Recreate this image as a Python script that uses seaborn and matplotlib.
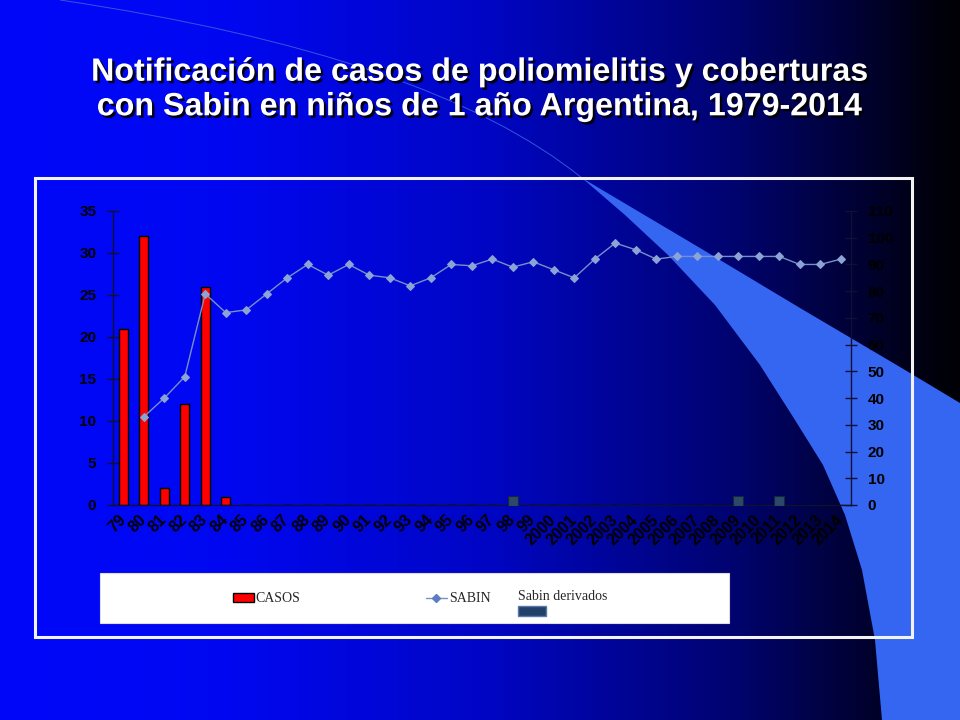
import numpy as np
import pandas as pd
import matplotlib
matplotlib.use("Agg")
import matplotlib.pyplot as plt
import matplotlib.patheffects as pe
from matplotlib.patches import Polygon, Rectangle, Patch, PathPatch
from matplotlib.path import Path
from matplotlib.lines import Line2D
import seaborn as sns

# =============================
# Datos
# =============================
anios = ['79', '80', '81', '82', '83', '84', '85', '86', '87', '88', '89', '90',
         '91', '92', '93', '94', '95', '96', '97', '98', '99', '2000', '2001',
         '2002', '2003', '2004', '2005', '2006', '2007', '2008', '2009', '2010',
         '2011', '2012', '2013', '2014']
casos = [21, 32, 2, 12, 26, 1] + [0] * 30

# cobertura Sabin (%) desde 1980
sabin_anios = anios[1:]
sabin = [33, 40, 48, 79, 72, 73, 79, 85, 90, 86, 90, 86, 85, 82, 85, 90, 89.5,
         92, 89, 91, 88, 85, 92, 98, 95.5, 92, 93, 93, 93, 93, 93, 93, 90, 90, 92]

derivados_anios = ['98', '2009', '2011']
derivados = [0.5, 0.5, 0.5]

titulo = ("Notificación de casos de poliomielitis y coberturas\n"
          "con Sabin en niños de 1 año Argentina, 1979-2014")

# =============================
# Figura y fondo
# =============================
sns.set_style("white")
plt.rcParams['font.family'] = ['Liberation Sans', 'DejaVu Sans']

fig = plt.figure(figsize=(9.6, 7.2), dpi=100)

bg = fig.add_axes([0, 0, 1, 1], zorder=0)
bg.set_xlim(0, 960)
bg.set_ylim(720, 0)
bg.axis('off')

# degradado azul -> negro
px = np.arange(960)
stops_x = [0, 230, 490, 735, 880, 945, 960]
stops_b = [250, 240, 195, 110, 40, 8, 5]
blue = np.interp(px, stops_x, stops_b) / 255.0
grad = np.zeros((2, 960, 3))
grad[:, :, 1] = blue * 0.03
grad[:, :, 2] = blue
bg.imshow(grad, extent=(0, 960, 720, 0), aspect='auto', zorder=0)

# curva decorativa
curva = Path([(60, 0), (430, 55), (582, 178)], [Path.MOVETO, Path.CURVE3, Path.CURVE3])
bg.add_patch(PathPatch(curva, facecolor='none', edgecolor='#3f63e0', lw=0.7, alpha=0.85, zorder=1))
swoosh = [(582, 178), (700, 248), (800, 308), (900, 367), (960, 403),
          (960, 720), (882, 720), (875, 640), (862, 570), (845, 515),
          (823, 465), (795, 420), (760, 365), (715, 305), (668, 255), (625, 215)]
bg.add_patch(Polygon(swoosh, closed=True, facecolor='#3566F2', edgecolor='none', zorder=1))

# marco blanco y caja de leyenda
bg.add_patch(Rectangle((35, 178), 877, 459, fill=False, edgecolor='#F2F2F2', lw=2.2, zorder=3))
bg.add_patch(Rectangle((100, 573), 629, 50, facecolor='white', edgecolor='#DDDDDD', lw=0.8, zorder=3))

# titulo
fig.text(0.5, 1 - 90 / 720, titulo, ha='center', va='center', color='white',
         fontsize=23.2, fontweight='bold', linespacing=1.2,
         path_effects=[pe.SimplePatchShadow(offset=(1.8, -1.8), shadow_rgbFace='black', alpha=0.9),
                       pe.Normal()])

# =============================
# Grafico
# =============================
ax = fig.add_axes([113 / 960, 1 - 505 / 720, (851 - 113) / 960, (505 - 211) / 720], zorder=2)
ax.patch.set_alpha(0)

df = pd.DataFrame({'anio': anios, 'casos': casos})
sns.barplot(data=df, x='anio', y='casos', order=anios, color='#FF0000', saturation=1,
            edgecolor='black', linewidth=1, width=0.42, ax=ax)

pos = {a: i for i, a in enumerate(anios)}
sns.scatterplot(x=[pos[a] for a in derivados_anios], y=derivados, marker='s', s=55,
                color='#2C4A68', edgecolor='#16263a', linewidth=0.8, ax=ax, zorder=4)

ax2 = ax.twinx()
ax2.patch.set_alpha(0)
sns.lineplot(x=[pos[a] for a in sabin_anios], y=sabin, ax=ax2, color='#7890C8',
             linewidth=1, marker='D', markersize=4.5, markerfacecolor='#8CA3D6',
             markeredgecolor='#8CA3D6')

ax.set_xlim(-0.5, 35.5)
ax.set_ylim(0, 35)
ax2.set_ylim(0, 110)
ax.set_yticks(range(0, 36, 5))
ax2.set_yticks(range(0, 111, 10))
ax.set_xlabel('')
ax.set_ylabel('')
ax2.set_ylabel('')

ax.set_xticks(range(len(anios)))
ax.set_xticklabels(anios, rotation=45, ha='right', va='center', rotation_mode='anchor',
                   fontsize=11.5, fontweight='bold')
ax.set_xticks(np.arange(-0.5, 36, 1), minor=True)
ax.tick_params(axis='x', which='major', length=0, pad=9, labelcolor='black')
ax.tick_params(axis='x', which='minor', direction='inout', length=7, width=1, color='#101035')
ax.tick_params(axis='y', direction='inout', length=8, width=1, color='#101035', pad=8,
               labelsize=11, labelcolor='black')
ax2.tick_params(axis='y', direction='inout', length=8, width=1, color='#101035', pad=8,
                labelsize=11, labelcolor='black')
for lab in ax.get_yticklabels() + ax2.get_yticklabels() + ax.get_xticklabels():
    lab.set_fontweight('bold')
    lab.set_color('black')

for a in (ax, ax2):
    for s in a.spines.values():
        s.set_color('#101035')
        s.set_linewidth(1)
    a.spines['top'].set_visible(False)
    a.grid(False)
ax2.spines['left'].set_visible(False)
ax2.spines['bottom'].set_visible(False)
ax.spines['right'].set_visible(False)

# =============================
# Leyenda
# =============================
serif = {'family': 'Liberation Serif', 'size': 10}
h1 = [Patch(facecolor='#FF0000', edgecolor='black', lw=1),
      Line2D([], [], color='#7890C8', lw=1, marker='D', markersize=4,
             markerfacecolor='#5C7DC0', markeredgecolor='#5C7DC0')]
leg1 = fig.legend(h1, ['CASOS', 'SABIN'], ncol=2, frameon=False, prop=serif,
                  loc='center left', bbox_to_anchor=(226 / 960, 1 - 599 / 720),
                  handlelength=1.5, handleheight=0.55, handletextpad=0.15,
                  columnspacing=9.0, borderpad=0)
leg1.set_zorder(5)
leg2 = fig.legend([Patch(facecolor='#22416A', edgecolor='#5A7AA8', lw=1)], [''],
                  title='Sabin derivados', title_fontproperties=serif, alignment='left',
                  frameon=False, loc='upper left', bbox_to_anchor=(510 / 960, 1 - 582 / 720),
                  handlelength=2.0, handleheight=0.8, handletextpad=0, borderpad=0.1,
                  labelspacing=0.1)
leg2.set_zorder(5)

fig.savefig('out.png', dpi=100)
